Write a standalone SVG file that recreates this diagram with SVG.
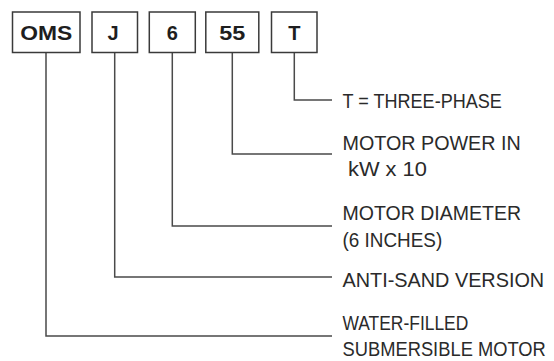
<svg xmlns="http://www.w3.org/2000/svg" width="554" height="361" viewBox="0 0 554 361">
<style>
.box{fill:#fff;stroke:#3a3a3a;stroke-width:1.5}
.code{font-family:"Liberation Sans",Arial,sans-serif;font-weight:bold;font-size:20px;fill:#1e1e1e;text-anchor:middle}
.lbl{font-family:"Liberation Sans",Arial,sans-serif;font-size:21px;fill:#2a2a2a}
.conn{fill:none;stroke:#4a4a4a;stroke-width:1.5}
</style>
<rect width="554" height="361" fill="#fff"/>
<g id="connectors">
<polyline class="conn" points="294.3,52.5 294.3,100 332,100"/>
<polyline class="conn" points="232.3,52.5 232.3,154 332,154"/>
<polyline class="conn" points="172.3,52.5 172.3,226 332,226"/>
<polyline class="conn" points="114.7,52.5 114.7,277 332,277"/>
<polyline class="conn" points="46,52.5 46,336 332,336"/>
</g>
<g id="node-oms">
<rect class="box" x="12.5" y="12" width="67.5" height="40.5"/>
<text class="code" x="46.2" y="39.5" textLength="52" lengthAdjust="spacingAndGlyphs">OMS</text>
</g>
<g id="node-j">
<rect class="box" x="92" y="12" width="45.5" height="40.5"/>
<text class="code" x="113" y="39.5">J</text>
</g>
<g id="node-6">
<rect class="box" x="149.3" y="12" width="46" height="40.5"/>
<text class="code" x="172.3" y="39.5">6</text>
</g>
<g id="node-55">
<rect class="box" x="205.8" y="12" width="53" height="40.5"/>
<text class="code" x="232.3" y="39.5" textLength="26" lengthAdjust="spacingAndGlyphs">55</text>
</g>
<g id="node-t">
<rect class="box" x="271.5" y="12" width="45.5" height="40.5"/>
<text class="code" x="294.3" y="39.5">T</text>
</g>
<g id="labels">
<text class="lbl" transform="translate(342.5,108) scale(0.86,1)">T = THREE-PHASE</text>
<text class="lbl" transform="translate(342.5,150) scale(0.94,1)">MOTOR POWER IN</text>
<text class="lbl" transform="translate(348,175.5) scale(1.04,1)">kW x 10</text>
<text class="lbl" transform="translate(342.5,220) scale(0.93,1)">MOTOR DIAMETER</text>
<text class="lbl" transform="translate(342.5,247) scale(0.9,1)">(6 INCHES)</text>
<text class="lbl" transform="translate(342.5,287) scale(0.945,1)">ANTI-SAND VERSION</text>
<text class="lbl" transform="translate(342.5,330) scale(0.83,1)">WATER-FILLED</text>
<text class="lbl" transform="translate(342.5,356) scale(0.873,1)">SUBMERSIBLE MOTOR</text>
</g>
</svg>
